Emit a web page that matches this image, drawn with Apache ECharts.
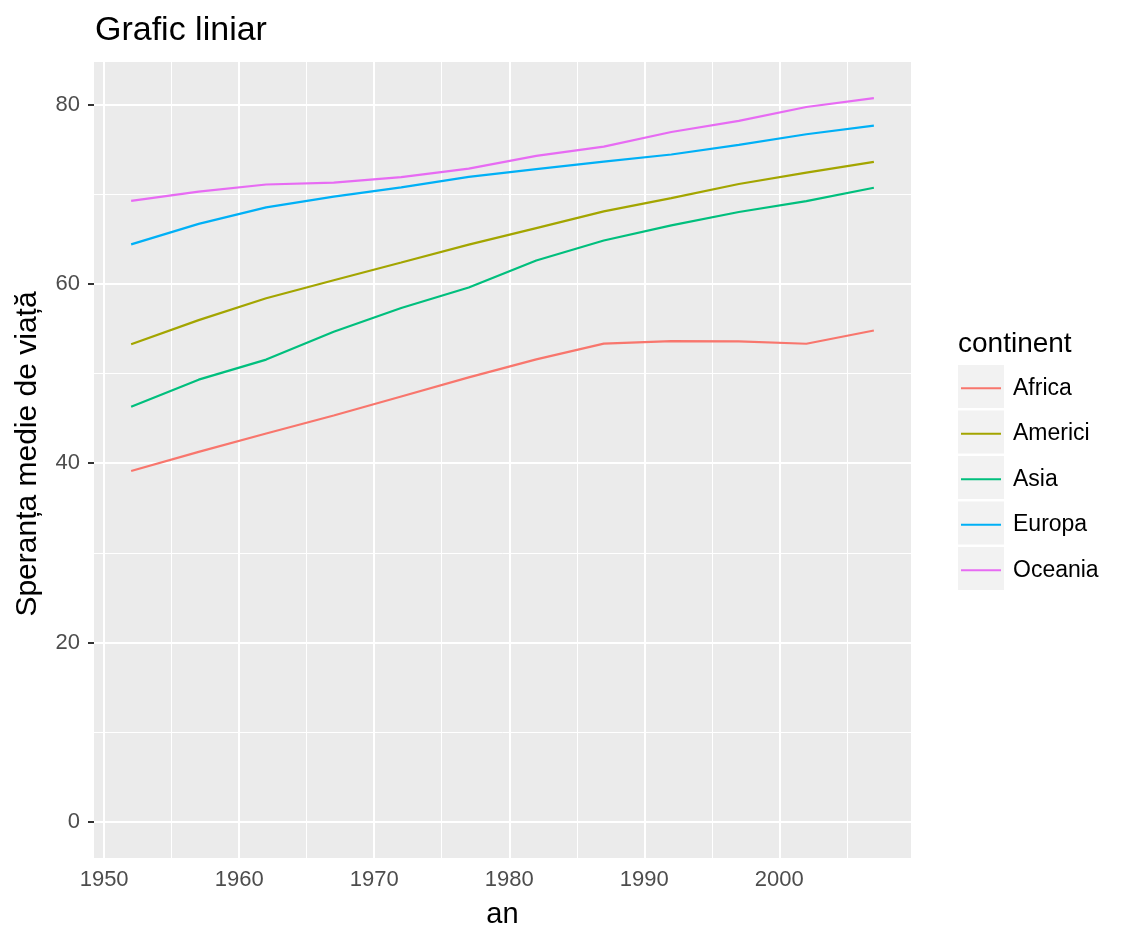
<!DOCTYPE html>
<html>
<head>
<meta charset="utf-8">
<script src="https://cdn.jsdelivr.net/npm/echarts@6/dist/echarts.min.js"></script>
<style>
  html, body { margin: 0; padding: 0; background: #fff; }
  #main { width: 1133px; height: 944px; }
</style>
</head>
<body>
<div id="main"></div>
<script>
// ani de observatie
var years = [1952, 1957, 1962, 1967, 1972, 1977, 1982, 1987, 1992, 1997, 2002, 2007];
// speranta medie de viata pe continent
var africa = [39.14, 41.27, 43.32, 45.33, 47.45, 49.58, 51.59, 53.34, 53.63, 53.60, 53.33, 54.81];
var americi = [53.28, 55.96, 58.40, 60.41, 62.39, 64.39, 66.23, 68.09, 69.57, 71.15, 72.42, 73.61];
var asia = [46.31, 49.32, 51.56, 54.66, 57.32, 59.61, 62.62, 64.85, 66.54, 68.02, 69.23, 70.73];
var europa = [64.41, 66.70, 68.54, 69.74, 70.78, 71.94, 72.81, 73.64, 74.44, 75.51, 76.70, 77.65];
var oceania = [69.26, 70.30, 71.09, 71.31, 71.91, 72.86, 74.29, 75.32, 76.95, 78.19, 79.74, 80.72];

var seriesNames = ['Africa', 'Americi', 'Asia', 'Europa', 'Oceania'];
var seriesData = [africa, americi, asia, europa, oceania];
var colors = ['#F8766D', '#A3A500', '#00BF7D', '#00B0F6', '#E76BF3'];

// etichete si linii de grila
var xTicks = [1950, 1960, 1970, 1980, 1990, 2000];
var xMinor = [1955, 1965, 1975, 1985, 1995, 2005];
var yTicks = [0, 20, 40, 60, 80];
var yMinor = [10, 30, 50, 70];

var font = "'Liberation Sans', Arial, Helvetica, sans-serif";

function pairs(vals) {
  var out = [];
  for (var i = 0; i < years.length; i++) out.push([years[i], vals[i]]);
  return out;
}

var gridLines = [];
xTicks.forEach(function (v) { gridLines.push({ xAxis: v, lineStyle: { width: 2 } }); });
xMinor.forEach(function (v) { gridLines.push({ xAxis: v, lineStyle: { width: 1 } }); });
yTicks.forEach(function (v) { gridLines.push({ yAxis: v, lineStyle: { width: 2 } }); });
yMinor.forEach(function (v) { gridLines.push({ yAxis: v, lineStyle: { width: 1 } }); });

var series = [{
  name: '_grid',
  type: 'line',
  data: [],
  z: 1,
  silent: true,
  markLine: {
    z: 1,
    silent: true,
    symbol: ['none', 'none'],
    label: { show: false },
    lineStyle: { color: '#ffffff', type: 'solid' },
    emphasis: { disabled: true },
    animation: false,
    data: gridLines
  }
}];
seriesNames.forEach(function (n, i) {
  series.push({
    name: n,
    type: 'line',
    data: pairs(seriesData[i]),
    showSymbol: false,
    z: 3,
    lineStyle: { width: 2.2, color: colors[i] },
    itemStyle: { color: colors[i] }
  });
});

// casutele gri ale legendei
var keyBoxes = [];
for (var k = 0; k < seriesNames.length; k++) {
  keyBoxes.push({
    type: 'rect',
    left: 958,
    top: 365 + k * 45.5,
    z: 0,
    shape: { width: 46, height: 43 },
    style: { fill: '#F2F2F2' }
  });
}

var myChart = echarts.init(document.getElementById('main'));
myChart.setOption({
  animation: false,
  color: colors,
  title: [{
    text: 'Grafic liniar',
    left: 90,
    top: 9,
    textStyle: { fontFamily: font, fontSize: 34, fontWeight: 'normal', color: '#000' }
  }, {
    text: 'continent',
    left: 953,
    top: 325,
    textStyle: { fontFamily: font, fontSize: 28, fontWeight: 'normal', color: '#000' }
  }],
  grid: {
    left: 94,
    right: 222,
    top: 62,
    bottom: 86,
    outerBoundsMode: 'none',
    containLabel: false,
    show: true,
    backgroundColor: '#EBEBEB',
    borderWidth: 0
  },
  graphic: keyBoxes,
  legend: {
    data: seriesNames,
    orient: 'vertical',
    left: 961,
    top: 365.5,
    padding: 0,
    itemGap: 0,
    itemWidth: 40,
    itemHeight: 2,
    icon: 'rect',
    z: 5,
    textStyle: {
      fontFamily: font,
      fontSize: 23,
      color: '#000',
      lineHeight: 45.5,
      padding: [0, 0, 0, 7]
    }
  },
  xAxis: {
    type: 'value',
    min: 1949.25,
    max: 2009.75,
    name: 'an',
    nameLocation: 'middle',
    nameGap: 42,
    nameTextStyle: { fontFamily: font, fontSize: 29, color: '#000' },
    axisLine: { show: false },
    axisTick: { show: true, length: 6, lineStyle: { color: '#333', width: 2 }, customValues: xTicks },
    axisLabel: {
      fontFamily: font, fontSize: 22, color: '#4D4D4D', margin: 11, customValues: xTicks,
      formatter: function (v) { return String(v); }
    },
    splitLine: { show: false }
  },
  yAxis: {
    type: 'value',
    min: -4.036,
    max: 84.756,
    name: 'Speranța medie de viață',
    nameLocation: 'middle',
    nameGap: 51,
    nameRotate: 90,
    nameTextStyle: { fontFamily: font, fontSize: 30, color: '#000', padding: [0, 0, 0, 12] },
    axisLine: { show: false },
    axisTick: { show: true, length: 6, lineStyle: { color: '#333', width: 2 }, customValues: yTicks },
    axisLabel: { fontFamily: font, fontSize: 22, color: '#4D4D4D', margin: 14, customValues: yTicks },
    splitLine: { show: false }
  },
  series: series
});
</script>
</body>
</html>
